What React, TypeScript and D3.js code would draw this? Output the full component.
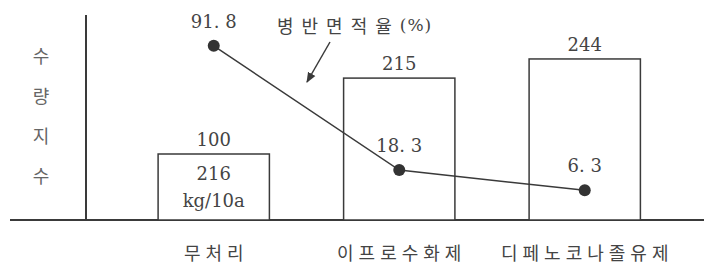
import React from "react";
import * as d3 from "d3";

const categories = ["무처리", "이프로수화제", "디페노코나졸유제"];
const yieldIndex = [100, 215, 244];
const diseaseRate = [91.8, 18.3, 6.3];
const barLabels = ["100", "215", "244"];
const pointLabels = ["91. 8", "18. 3", "6. 3"];
const yTitle = ["수", "량", "지", "수"];
const lineLegend = "병반면적율";
const lineLegendUnit = "(%)";
const baseNote = ["216", "kg/10a"];

const W = 704;
const H = 271;
const baseY = 220;
const ink = "#3a3a3a";
const numFont = "'DejaVu Serif', 'Liberation Serif', serif";
const krFont = "'Noto Sans CJK KR', sans-serif";

export default function App() {
  const x = d3
    .scaleBand<string>()
    .domain(categories)
    .range([121, 677.5])
    .paddingInner(0.4)
    .paddingOuter(0.2);
  const yBar = d3.scaleLinear().domain([0, 250]).range([baseY, 55]);
  const yLine = d3.scaleLinear().domain([0, 100]).range([201, 32]);
  const cx = (c: string) => (x(c) as number) + x.bandwidth() / 2;

  const pts: [number, number][] = categories.map((c, i) => [cx(c), yLine(diseaseRate[i])]);
  const line = d3.line()(pts) as string;

  return (
    <svg
      width={W}
      height={H}
      style={{ position: "fixed", left: 0, top: 0, background: "#fff" }}
    >
      <defs>
        <marker id="ah" viewBox="0 0 10 10" refX="9" refY="5" markerWidth="7" markerHeight="7" orient="auto">
          <path d="M0,1 L10,5 L0,9 z" fill={ink} />
        </marker>
      </defs>
      <rect width={W} height={H} fill="#fff" />
      {/* axes */}
      <line x1={10} x2={704} y1={baseY} y2={baseY} stroke={ink} strokeWidth={2} />
      <line x1={86} x2={86} y1={15} y2={baseY} stroke={ink} strokeWidth={2} />
      {/* y title */}
      {yTitle.map((t, i) => (
        <text key={i} x={41} y={55 + i * 40} dominantBaseline="central" textAnchor="middle" fontFamily={krFont} fontSize={18} fill="#666">
          {t}
        </text>
      ))}
      {/* bars */}
      {categories.map((c, i) => (
        <g key={c}>
          <rect
            x={x(c)}
            y={yBar(yieldIndex[i])}
            width={x.bandwidth()}
            height={baseY - yBar(yieldIndex[i])}
            fill="#fff"
            stroke={ink}
            strokeWidth={1.5}
          />
          <text x={cx(c)} y={yBar(yieldIndex[i]) - 8} textAnchor="middle" fontFamily={numFont} fontSize={18} fill="#444">
            {barLabels[i]}
          </text>
          <text x={cx(c) + 2.5} y={252} dominantBaseline="central" textAnchor="middle" fontFamily={krFont} fontSize={18} letterSpacing={5} fill="#444">
            {c}
          </text>
        </g>
      ))}
      {/* note inside first bar */}
      <text x={cx(categories[0])} y={180} textAnchor="middle" fontFamily={numFont} fontSize={18} fill="#444">
        {baseNote[0]}
      </text>
      <text x={cx(categories[0])} y={207} textAnchor="middle" fontFamily={numFont} fontSize={18} fill="#444">
        {baseNote[1]}
      </text>
      {/* line */}
      <path d={line} fill="none" stroke={ink} strokeWidth={1.5} />
      {pts.map((p, i) => (
        <g key={i}>
          <circle cx={p[0]} cy={p[1]} r={6} fill="#333" />
          <text x={p[0]} y={p[1] - 18} textAnchor="middle" fontFamily={numFont} fontSize={18} fill="#444">
            {pointLabels[i]}
          </text>
        </g>
      ))}
      {/* legend annotation */}
      <text x={277} y={25} dominantBaseline="central" fontFamily={krFont} fontSize={18} letterSpacing={8} fill="#444">
        {lineLegend}
        <tspan fontFamily={numFont} fontSize={17} letterSpacing={1}>{lineLegendUnit}</tspan>
      </text>
      <line x1={330} y1={42} x2={307} y2={82} stroke={ink} strokeWidth={1.5} markerEnd="url(#ah)" />
    </svg>
  );
}
